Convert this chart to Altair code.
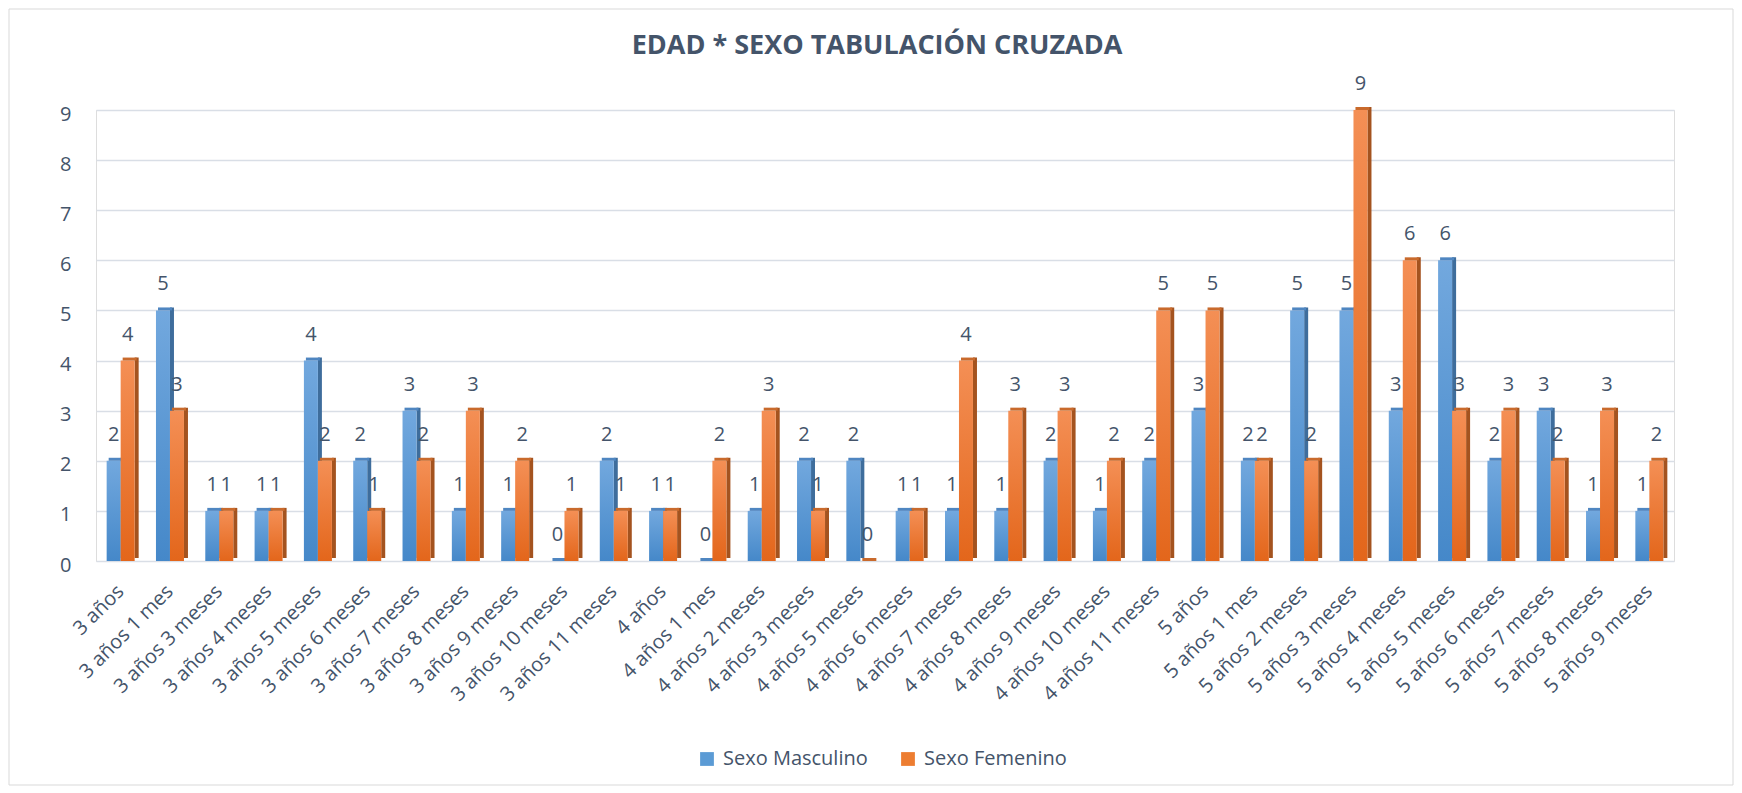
import altair as alt
import pandas as pd

categorias = ["3 años", "3 años 1 mes", "3 años 3 meses", "3 años 4 meses", "3 años 5 meses",
              "3 años 6 meses", "3 años 7 meses", "3 años 8 meses", "3 años 9 meses",
              "3 años 10 meses", "3 años 11 meses", "4 años", "4 años 1 mes", "4 años 2 meses",
              "4 años 3 meses", "4 años 5 meses", "4 años 6 meses", "4 años 7 meses",
              "4 años 8 meses", "4 años 9 meses", "4 años 10 meses", "4 años 11 meses",
              "5 años", "5 años 1 mes", "5 años 2 meses", "5 años 3 meses", "5 años 4 meses",
              "5 años 5 meses", "5 años 6 meses", "5 años 7 meses", "5 años 8 meses",
              "5 años 9 meses"]
masculino = [2, 5, 1, 1, 4, 2, 3, 1, 1, 0, 2, 1, 0, 1, 2, 2, 1, 1, 1, 2, 1, 2, 3, 2, 5, 5, 3, 6, 2, 3, 1, 1]
femenino = [4, 3, 1, 1, 2, 1, 2, 3, 2, 1, 1, 1, 2, 3, 1, 0, 1, 4, 3, 3, 2, 5, 5, 2, 2, 9, 6, 3, 3, 2, 3, 2]
series = ["Sexo Masculino", "Sexo Femenino"]
titulo = "EDAD * SEXO TABULACIÓN CRUZADA"
y_ticks = list(range(10))

TXT = "#44546A"
FONT = "Open Sans"
PW, PH = 1578, 451
PAD_T, PAD_L = 102, 88
SVG_W, SVG_H = 1726, 778

df_m = pd.DataFrame({"cat": categorias, "val": masculino, "sexo": series[0]})
df_f = pd.DataFrame({"cat": categorias, "val": femenino, "sexo": series[1]})
df_all = pd.concat([df_m, df_f], ignore_index=True)

xenc = alt.X("cat:N", sort=categorias,
             scale=alt.Scale(domain=categorias, paddingInner=0, paddingOuter=0),
             axis=alt.Axis(title=None, labelAngle=-45, labelAlign="right", labelBaseline="middle",
                           labelFontSize=20, labelColor=TXT, labelFont=FONT, ticks=False,
                           domain=False, labelPadding=27, grid=False))
yenc = alt.Y("val:Q", scale=alt.Scale(domain=[0, 9], nice=False),
             axis=alt.Axis(title=None, values=y_ticks, domain=False, ticks=False, labelPadding=25,
                           labelFontSize=20, labelColor=TXT, labelFont=FONT, labelOffset=4,
                           grid=True, gridColor="#D9DEE6", gridWidth=1.6))


def grad(top, bottom):
    return alt.LinearGradient(gradient="linear", x1=0, x2=0, y1=0, y2=1,
                              stops=[alt.GradientStop(color=top, offset=0),
                                     alt.GradientStop(color=bottom, offset=1)])


def serie_layers(df, dx, front_top, front_bottom, side, topc):
    base = alt.Chart(df)
    side_l = base.mark_bar(width=4, xOffset=dx + 9, yOffset=-3, y2Offset=-3, color=side).encode(
        x=xenc, y=yenc, y2=alt.datum(0))
    front = base.mark_bar(width=14, xOffset=dx, color=grad(front_top, front_bottom)).encode(
        x=xenc, y=yenc)
    top = base.mark_tick(orient="horizontal", thickness=3, size=14, xOffset=dx + 2, yOffset=-1.5,
                         color=topc, opacity=1).encode(x=xenc, y=yenc)
    return [side_l, front, top]


frame = alt.Chart(pd.DataFrame({"a": [0]})).mark_rect(filled=False, stroke="#D9D9D9", strokeWidth=1).encode(
    x=alt.value(1 - PAD_L), x2=alt.value(SVG_W - PAD_L - 1),
    y=alt.value(1 - PAD_T), y2=alt.value(SVG_H - PAD_T - 1))

layers_m = serie_layers(df_m, -7, "#72A8DE", "#4588C9", "#3E6D9C", "#4F86C1")
layers_f = serie_layers(df_f, 7, "#F48F55", "#E3661B", "#A4531F", "#C96A2C")

lab_m = alt.Chart(df_m).mark_text(dx=-7, dy=-26, baseline="middle", fontSize=20, font=FONT,
                                  color=TXT).encode(x=xenc, y=yenc, text="val:Q")
lab_f = alt.Chart(df_f).mark_text(dx=7, dy=-26, baseline="middle", fontSize=20, font=FONT,
                                  color=TXT).encode(x=xenc, y=yenc, text="val:Q")

title_l = alt.Chart(pd.DataFrame({"t": [titulo]})).mark_text(
    fontSize=27, font=FONT, fontWeight="bold", color=TXT, align="center", baseline="middle").encode(
    x=alt.value(781), y=alt.value(-64), text="t:N")

legend_l = alt.Chart(df_all).mark_square(opacity=0, size=1).encode(
    x=xenc, y=yenc,
    color=alt.Color("sexo:N", sort=series,
                    scale=alt.Scale(domain=series, range=["#5B9BD5", "#ED7D31"]),
                    legend=alt.Legend(orient="none", legendX=601, legendY=639, direction="horizontal",
                                      title=None, symbolType="square", symbolSize=190,
                                      symbolOpacity=1, symbolStrokeWidth=0, labelFontSize=20,
                                      labelFont=FONT, labelColor=TXT, columnPadding=30,
                                      labelOffset=6)))

chart = alt.layer(frame, *layers_m, *layers_f, lab_m, lab_f, title_l, legend_l).properties(
    width=PW, height=PH,
    autosize=alt.AutoSizeParams(type="none"),
    padding={"left": PAD_L, "top": PAD_T, "right": SVG_W - PAD_L - PW, "bottom": SVG_H - PAD_T - PH},
).configure_view(stroke=None).configure(background="white")

chart.save("out.html", embed_options={"renderer": "svg", "actions": False})
